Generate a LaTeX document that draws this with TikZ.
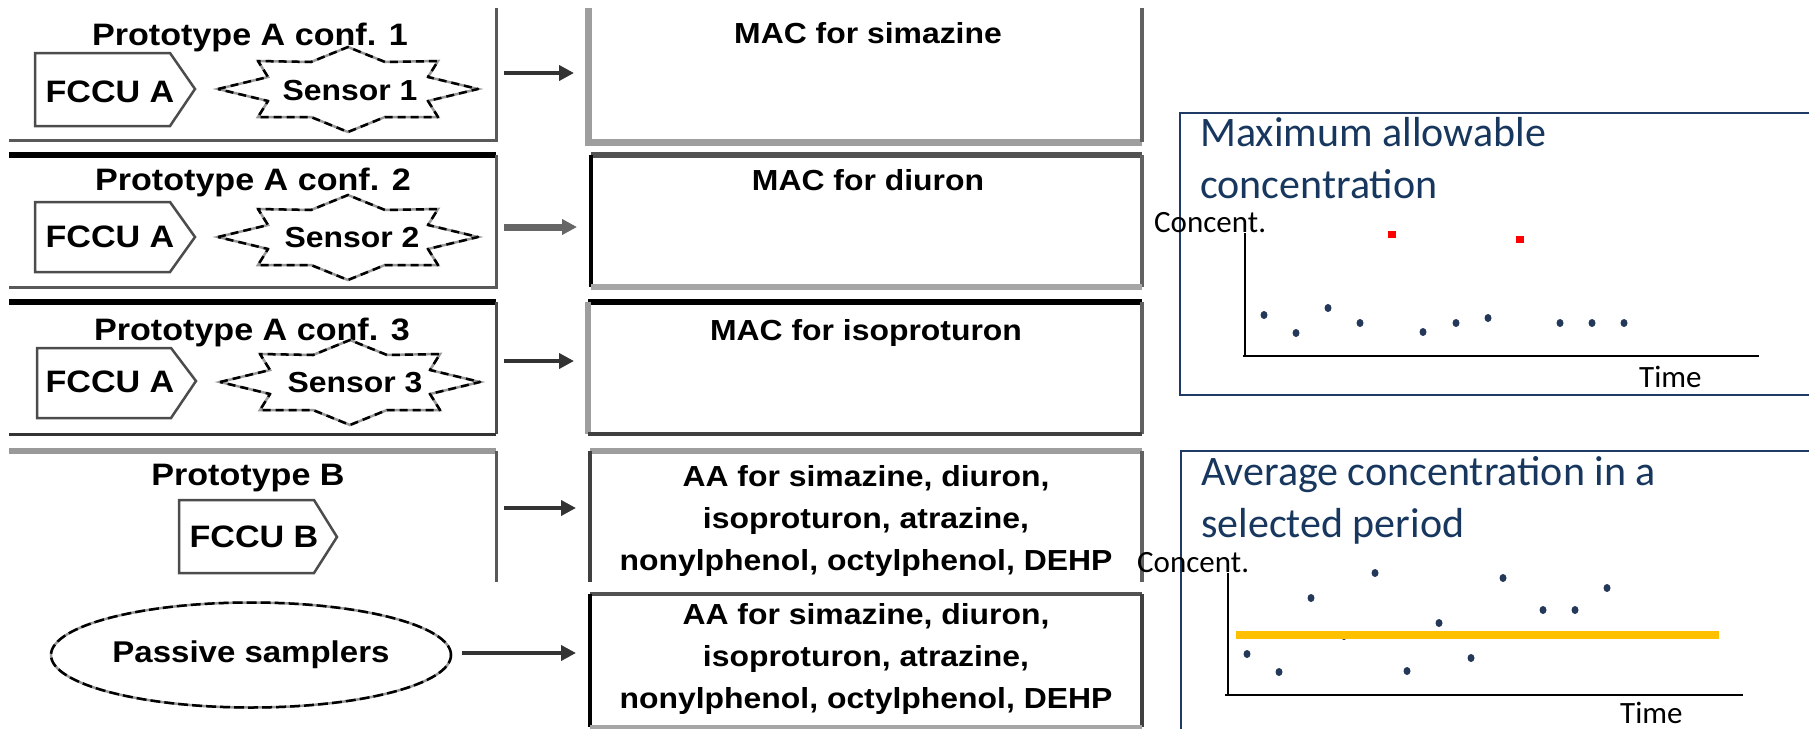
\documentclass[tikz,border=0pt]{standalone}
\usepackage{fontspec}
\setmainfont{Liberation Sans}
\newfontfamily\lbf{Liberation Sans}[FakeStretch=1.1]
\newfontfamily\carl{Carlito}
\usetikzlibrary{shapes.geometric,arrows.meta,fit,calc}
\definecolor{navy}{RGB}{23,55,94}
\definecolor{pborder}{RGB}{31,58,100}
\definecolor{dotc}{RGB}{36,56,90}
\definecolor{orng}{RGB}{255,192,0}
\begin{document}
\begin{tikzpicture}[x=1pt,y=-1pt,
  frame/.style={inner sep=0pt,outer sep=0pt,draw=none},
  lbl/.style={font=\lbf\bfseries\fontsize{31}{36}\selectfont,inner sep=0pt,anchor=base},
  stxt/.style={font=\lbf\bfseries\fontsize{29}{36}\selectfont,inner sep=0pt,anchor=base},
  mtxt/.style={font=\lbf\bfseries\fontsize{29}{42}\selectfont,inner sep=0pt,align=center},
  fccu/.style={draw=black!70,line width=2.5pt,line join=miter},
  starl/.style={draw=black,line width=2.5pt,line join=round,dash pattern=on 8pt off 5pt,
     preaction={draw=black!40,solid,line width=2.5pt}},
  arr/.style={-{Triangle[length=15pt,width=15pt]},line width=4pt,draw=black!80,shorten <=8pt,shorten >=14pt},
  panel/.style={draw=pborder,line width=2pt,inner sep=0pt,anchor=north west},
  ttl/.style={font=\carl\fontsize{42}{52}\selectfont,text=navy,inner sep=0pt,align=left,anchor=base west},
  axl/.style={font=\carl\fontsize{31}{36}\selectfont,inner sep=0pt,anchor=base west},
  dot/.style={fill=dotc}
]
\useasboundingbox (0,0) rectangle (1809,728);

% ---------- left frames ----------
\node[frame,fit={(9,8) (496,140)}] (p1) {};
\node[frame,fit={(9,155) (496,287)}] (p2) {};
\node[frame,fit={(9,302) (496,434)}] (p3) {};
\node[frame,fit={(9,451) (496,582)}] (p4) {};
\draw[line width=3pt,black!65] (p1.north east) -- (p1.south east) -- (p1.south west);
\draw[line width=6pt,black] (p2.north west) -- (p2.north east);
\draw[line width=3pt,black!65] (p2.north east) -- (p2.south east) -- (p2.south west);
\draw[line width=6pt,black] (p3.north west) -- (p3.north east);
\draw[line width=3pt,black!70] (p3.north east) -- (p3.south east);
\draw[line width=3pt,black!80] (p3.south east) -- (p3.south west);
\draw[line width=6pt,black!40] (p4.north west) -- (p4.north east);
\draw[line width=3pt,black!65] (p4.north east) -- (p4.south east);

% ---------- middle frames ----------
\node[frame,fit={(588,8) (1142,142)}] (m1) {};
\node[frame,fit={(591,155) (1142,287)}] (m2) {};
\node[frame,fit={(588,302) (1142,434)}] (m3) {};
\node[frame,fit={(590,451) (1142,582)}] (m4) {};
\node[frame,fit={(590,594) (1142,727)}] (m5) {};
\draw[line width=7pt,black!38] (m1.north west) -- (m1.south west) -- (m1.south east);
\draw[line width=4pt,black!62] (m1.north east) -- (m1.south east);
\draw[line width=6pt,black!68] (m2.north west) -- (m2.north east);
\draw[line width=4pt,black] (m2.north west) -- (m2.south west);
\draw[line width=4pt,black!62] (m2.north east) -- (m2.south east);
\draw[line width=6pt,black!35] (m2.south west) -- (m2.south east);
\draw[line width=6pt,black] (m3.north west) -- (m3.north east);
\draw[line width=6pt,black!38] (m3.north west) -- (m3.south west);
\draw[line width=4pt,black!62] (m3.north east) -- (m3.south east);
\draw[line width=4pt,black!75] (m3.south west) -- (m3.south east);
\draw[line width=6pt,black!38] (m4.north west) -- (m4.north east);
\draw[line width=4pt,black!75] (m4.north west) -- (m4.south west);
\draw[line width=4pt,black!62] (m4.north east) -- (m4.south east);
\draw[line width=4pt,black!68] (m5.north west) -- (m5.north east);
\draw[line width=4pt,black] (m5.north west) -- (m5.south west);
\draw[line width=4pt,black!75] (m5.north east) -- (m5.south east);
\draw[line width=5pt,black!35] (m5.south west) -- (m5.south east);

% ---------- left content ----------
\node[lbl] (t1) at (250,45) {Prototype A conf. 1};
\node[lbl] (t2) at (253,190) {Prototype A conf. 2};
\node[lbl] (t3) at (252,340) {Prototype A conf. 3};
\node[lbl] (t4) at (248,485) {Prototype B};

\draw[fccu] (35,53) -- (170,53) -- (195,89) -- (170,126) -- (35,126) -- cycle;
\draw[fccu] (35,202) -- (170,202) -- (195,237) -- (170,272) -- (35,272) -- cycle;
\draw[fccu] (37,348) -- (171,348) -- (196,381) -- (171,418) -- (37,418) -- cycle;
\draw[fccu] (179,500) -- (314,500) -- (337,537) -- (314,573) -- (179,573) -- cycle;
\node[lbl] (f1) at (110,102) {FCCU A};
\node[lbl] (f2) at (110,247) {FCCU A};
\node[lbl] (f3) at (110,392) {FCCU A};
\node[lbl] (f4) at (254,547) {FCCU B};

\foreach \cx/\cy in {348/89,348/237,350/382}{
  \draw[starl,shift={(\cx,\cy)}] (-130,0) -- (-80,-12) -- (-90,-28) -- (-37,-27) -- (0,-42)
    -- (37,-27) -- (90,-28) -- (80,-12) -- (130,0) -- (80,12) -- (90,28) -- (37,28)
    -- (0,43) -- (-37,28) -- (-90,28) -- (-80,12) -- cycle;
}
\node[stxt] (s1) at (350,100) {Sensor 1};
\node[stxt] (s2) at (352,247) {Sensor 2};
\node[stxt] (s3) at (355,392) {Sensor 3};

\node[ellipse,draw=black,line width=2.5pt,dash pattern=on 10pt off 4pt,
  preaction={draw=black!40,solid,line width=2.5pt},
  minimum width=400pt,minimum height=105pt,inner sep=0pt,
  font=\lbf\bfseries\fontsize{30}{36}\selectfont] (ps) at (251,655) {Passive samplers};

% ---------- middle content ----------
\node[stxt] (mt1) at (868,43) {MAC for simazine};
\node[stxt] (mt2) at (868,190) {MAC for diuron};
\node[stxt] (mt3) at (866,340) {MAC for isoproturon};
\node[mtxt] (mt4) at (866,521) {AA for simazine, diuron,\\isoproturon, atrazine,\\nonylphenol, octylphenol, DEHP};
\node[mtxt] (mt5) at (866,659) {AA for simazine, diuron,\\isoproturon, atrazine,\\nonylphenol, octylphenol, DEHP};

% ---------- arrows ----------
\draw[arr] ([yshift=1pt]p1.east) -- ([yshift=1pt]p1.east -| m1.west);
\draw[arr,line width=7pt,draw=black!60] ([yshift=-6pt]p2.east) -- ([yshift=-6pt]p2.east -| m2.west);
\draw[arr] ([yshift=7pt]p3.east) -- ([yshift=7pt]p3.east -| m3.west);
\draw[arr] ([yshift=8.5pt]p4.east) -- ([yshift=8.5pt]p4.east -| m4.west);
\draw[arr,shorten <=10pt] ([yshift=2pt]ps.east) -- ([yshift=2pt]ps.east -| m5.west);

% ---------- chart 1 ----------
\node[panel,minimum width=640pt,minimum height=282pt] (c1) at (1179,112) {};
\node[ttl] (c1t) at (1200,198) {Maximum allowable\\concentration};
\node[axl] (c1y) at (1154,232) {Concent.};
\node[axl] (c1x) at (1639,387) {Time};
\draw[line width=1.5pt] (1245,233) -- (1245,356);
\draw[line width=2.2pt] (1243,356) -- (1759,356);
\foreach \px/\py in {1264/315,1296/333,1328/308,1360/323,1423/332,1456/323,1488/318,1560/323,1592/323,1624/323}
  \fill[dot] (\px,\py) ellipse [x radius=3.5,y radius=4];
\fill[red] (1388,231) rectangle (1396,238);
\fill[red] (1516,236) rectangle (1524,243);

% ---------- chart 2 ----------
\node[panel,minimum width=640pt,minimum height=290pt] (c2) at (1180,450) {};
\node[ttl] (c2t) at (1201,537) {Average concentration in a\\selected period};
\node[axl] (c2y) at (1137,572) {Concent.};
\node[axl] (c2x) at (1620,723) {Time};
\draw[line width=1.5pt] (1228,573) -- (1228,695);
\draw[line width=2.2pt] (1225,695) -- (1743,695);
\foreach \px/\py in {1247/654,1279/672,1311/598,1344/636,1375/573,1407/671,1439/623,1471/658,1503/578,1543/610,1575/610,1607/588}
  \fill[dot] (\px,\py) ellipse [x radius=3.5,y radius=4];
\draw[orng,line width=8pt] (1236,635) -- (1719,635);
\end{tikzpicture}
\end{document}
